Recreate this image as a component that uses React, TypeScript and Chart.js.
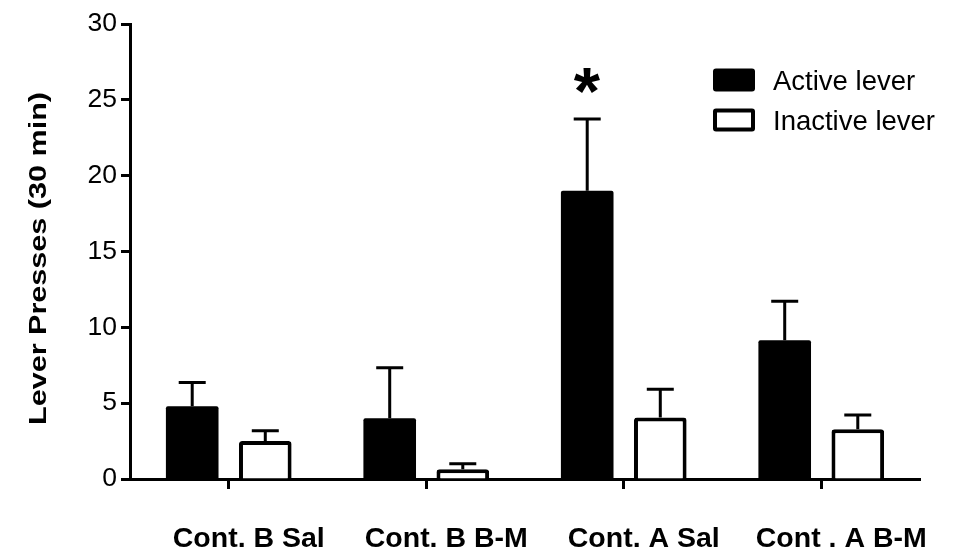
import React, { useEffect, useRef } from 'react';
import { Chart, registerables } from 'chart.js';

Chart.register(...registerables);

const categories = ['Cont. B Sal', 'Cont. B B-M', 'Cont. A Sal', 'Cont . A B-M'];
const seriesNames = ['Active lever', 'Inactive lever'];
const activeMeans = [4.8, 4.0, 19.0, 9.15];
const activeSem = [1.57, 3.34, 4.73, 2.57];
const inactiveMeans = [2.5, 0.65, 4.05, 3.28];
const inactiveSem = [0.68, 0.35, 1.87, 0.94];
const yTicks = [0, 5, 10, 15, 20, 25, 30];
const activeSignificant = [false, false, true, false];
const yTitle = 'Lever Presses (30 min)';

const FONT = "'Liberation Sans', Arial, Helvetica, sans-serif";

const errorBarPlugin = {
  id: 'errorBars',
  afterDatasetsDraw(chart: any) {
    const ctx = chart.ctx;
    const yScale = chart.scales.y;
    const errs = [activeSem, inactiveSem];
    ctx.save();
    ctx.strokeStyle = '#000';
    ctx.lineWidth = 3;
    ctx.lineCap = 'butt';
    chart.data.datasets.forEach((ds: any, di: number) => {
      const meta = chart.getDatasetMeta(di);
      meta.data.forEach((bar: any, i: number) => {
        const v = ds.data[i];
        const e = errs[di][i];
        const x = bar.x;
        const y0 = yScale.getPixelForValue(v);
        const y1 = yScale.getPixelForValue(v + e);
        ctx.beginPath();
        ctx.moveTo(x, y0);
        ctx.lineTo(x, y1);
        ctx.moveTo(x - 13.5, y1);
        ctx.lineTo(x + 13.5, y1);
        ctx.stroke();
      });
    });
    // significance star
    const meta0 = chart.getDatasetMeta(0);
    activeSignificant.forEach((sig, i) => {
      if (!sig) return;
      const bar: any = meta0.data[i];
      const yTop = yScale.getPixelForValue(activeMeans[i] + activeSem[i]);
      const cy = yTop - 39;
      const cx = bar.x;
      ctx.fillStyle = '#000';
      ctx.font = `bold 40px ${FONT}`;
      let m = ctx.measureText('*');
      const w = m.actualBoundingBoxLeft + m.actualBoundingBoxRight;
      const size = (40 * 27) / w;
      ctx.font = `bold ${size}px ${FONT}`;
      m = ctx.measureText('*');
      ctx.textAlign = 'left';
      ctx.textBaseline = 'alphabetic';
      const gx = cx - (m.actualBoundingBoxRight - m.actualBoundingBoxLeft) / 2;
      const gy = cy + (m.actualBoundingBoxAscent - m.actualBoundingBoxDescent) / 2;
      ctx.fillText('*', gx, gy);
    });
    ctx.restore();
  },
};

const legendPlugin = {
  id: 'customLegend',
  afterDraw(chart: any) {
    const ctx = chart.ctx;
    ctx.save();
    const bx = 713;
    const rows = [80, 120];
    chart.data.datasets.forEach((ds: any, i: number) => {
      const cy = rows[i];
      const w = 42;
      const h = 23;
      const x = bx;
      const y = cy - h / 2;
      ctx.beginPath();
      if (ds.borderWidth) {
        ctx.fillStyle = ds.borderColor;
        ctx.roundRect(x, y, w, h, 3);
        ctx.fill();
        ctx.beginPath();
        ctx.fillStyle = ds.backgroundColor;
        ctx.rect(x + 4, y + 4, w - 8, h - 8);
        ctx.fill();
      } else {
        ctx.fillStyle = ds.backgroundColor;
        ctx.roundRect(x, y, w, h, 3);
        ctx.fill();
      }
      ctx.fillStyle = '#000';
      ctx.font = `27.5px ${FONT}`;
      ctx.textAlign = 'left';
      ctx.textBaseline = 'alphabetic';
      ctx.fillText(ds.label, 773, cy + 9.8);
    });
    ctx.restore();
  },
};

const yTitlePlugin = {
  id: 'yTitle',
  afterDraw(chart: any) {
    const ctx = chart.ctx;
    ctx.save();
    ctx.font = `bold 24px ${FONT}`;
    const w = ctx.measureText(yTitle).width;
    ctx.translate(39.5, 258.5);
    ctx.rotate(-Math.PI / 2);
    ctx.scale(333 / w, 1);
    ctx.fillStyle = '#000';
    ctx.textAlign = 'center';
    ctx.textBaseline = 'middle';
    ctx.fillText(yTitle, 0, 0);
    ctx.restore();
  },
};

export default function App() {
  const canvasRef = useRef<HTMLCanvasElement | null>(null);

  useEffect(() => {
    document.body.style.margin = '0';
    const canvas = canvasRef.current;
    if (!canvas) return;
    const chart = new Chart(canvas, {
      type: 'bar',
      data: {
        labels: categories,
        datasets: [
          {
            label: seriesNames[0],
            data: activeMeans,
            backgroundColor: '#000000',
            borderWidth: 0,
            borderRadius: 2,
            barPercentage: 0.72,
            categoryPercentage: 0.74,
          },
          {
            label: seriesNames[1],
            data: inactiveMeans,
            backgroundColor: '#ffffff',
            borderColor: '#000000',
            borderWidth: 4,
            borderRadius: 3,
            barPercentage: 0.72,
            categoryPercentage: 0.74,
          },
        ],
      },
      options: {
        responsive: false,
        animation: false,
        devicePixelRatio: 1,
        layout: { padding: { top: 24, right: 39, bottom: 0, left: 0 } },
        plugins: {
          legend: { display: false },
          tooltip: { enabled: false },
          title: { display: false },
        },
        scales: {
          x: {
            type: 'category',
            offset: true,
            z: 1,
            grid: {
              display: true,
              drawOnChartArea: false,
              drawTicks: true,
              tickLength: 10,
              tickWidth: 3,
              tickColor: '#000',
              offset: false,
            },
            border: { display: true, color: '#000', width: 3 },
            ticks: {
              color: '#000',
              font: { family: FONT, size: 28.5, weight: 'bold' },
              padding: 33,
              labelOffset: 20,
              maxRotation: 0,
              autoSkip: false,
            },
            afterFit: (s: any) => {
              s.height = 75;
            },
          },
          y: {
            min: 0,
            max: 30,
            z: 1,
            afterBuildTicks: (s: any) => {
              s.ticks = yTicks.map((v) => ({ value: v }));
            },
            grid: {
              display: true,
              drawOnChartArea: false,
              drawTicks: true,
              tickLength: 9,
              tickWidth: 3,
              tickColor: '#000',
            },
            border: { display: true, color: '#000', width: 3 },
            ticks: {
              color: '#000',
              font: { family: FONT, size: 26.5 },
              padding: 4,
            },
            afterFit: (s: any) => {
              s.width = 130;
            },
          },
        },
      },
      plugins: [errorBarPlugin, legendPlugin, yTitlePlugin],
    } as any);
    return () => {
      chart.destroy();
    };
  }, []);

  return (
    <div style={{ position: 'absolute', left: 0, top: 0, width: 959, height: 554, background: '#fff' }}>
      <canvas ref={canvasRef} width={959} height={554} style={{ display: 'block', width: 959, height: 554 }} />
    </div>
  );
}
